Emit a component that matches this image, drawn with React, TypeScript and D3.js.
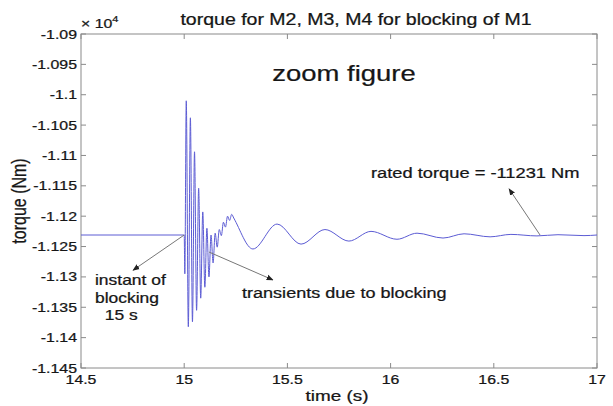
import React from "react";
import * as d3 from "d3";

// Simulated torque of M2/M3/M4 after M1 is blocked at t = 15 s
// (turning points of the trace: time in s, torque in Nm)
const torqueTime = [
  14.5, 15.0, 15.003, 15.01, 15.02, 15.03, 15.04, 15.05, 15.06, 15.07, 15.08,
  15.09, 15.1, 15.11, 15.12, 15.13, 15.14, 15.15, 15.16, 15.17, 15.18, 15.19,
  15.2, 15.21, 15.22, 15.23, 15.24, 15.333, 15.45, 15.566, 15.682, 15.798,
  15.905, 16.031, 16.128, 16.254, 16.356, 16.482, 16.583, 16.709, 16.811,
  16.937, 17.0,
];
const torqueValue = [
  -11231, -11231, -11295, -11010, -11382, -11038, -11374, -11094, -11355,
  -11154, -11335, -11193, -11317, -11220, -11300, -11231, -11277, -11228,
  -11251, -11222, -11232, -11210, -11218, -11200, -11207, -11197, -11203,
  -11254, -11213, -11246, -11222, -11241, -11225, -11238, -11228, -11236,
  -11229, -11234, -11230, -11232.5, -11230.5, -11232, -11231,
];

const xTicks = [14.5, 15, 15.5, 16, 16.5, 17];
const yTicks = [
  -10900, -10950, -11000, -11050, -11100, -11150, -11200, -11250, -11300,
  -11350, -11400, -11450,
];

const titleText = "torque for M2, M3, M4 for blocking of M1";
const noteText = "zoom figure";
const xLabel = "time (s)";
const yLabel = "torque (Nm)";

// annotations: text lines anchored in data units, arrows from -> to
const instantLines = ["instant of", "blocking", "  15 s"];
const instantArrow = { from: [15.0, -11231], to: [14.752, -11289] };
const transientText = "transients due to blocking";
const transientArrow = { from: [15.12, -11259], to: [15.43, -11305] };
const ratedText = "rated torque = -11231 Nm";
const ratedArrow = { from: [16.724, -11231], to: [16.574, -11155] };

const W = 613;
const H = 406;
const plot = { left: 81, right: 597, top: 34, bottom: 368 };
const SX = 1.22;
const FONT = "'Liberation Sans', Arial, sans-serif";
const INK = "#161616";

function Txt(props: {
  x: number;
  y: number;
  size: number;
  anchor?: "start" | "middle" | "end";
  sx?: number;
  children: React.ReactNode;
}) {
  const { x, y, size, anchor = "start", sx = SX, children } = props;
  return (
    <text
      transform={`translate(${x},${y}) scale(${sx},1)`}
      textAnchor={anchor}
      fontFamily={FONT}
      fontSize={size}
      fill={INK}
      stroke={INK}
      strokeWidth={0.25}
      style={{ whiteSpace: "pre" }}
    >
      {children}
    </text>
  );
}

export default function App() {
  const x = d3.scaleLinear().domain([14.5, 17]).range([plot.left, plot.right]);
  const y = d3
    .scaleLinear()
    .domain([-11450, -10900])
    .range([plot.bottom, plot.top]);

  const pts: [number, number][] = torqueTime.map((t, i) => [t, torqueValue[i]]);
  const line = d3
    .line<[number, number]>()
    .x((d) => x(d[0]))
    .y((d) => y(d[1]))
    .curve(d3.curveMonotoneX);

  const fmtY = (v: number) => String(+(v / 1e4).toFixed(4));
  const tick = 5;
  const axisColor = "#8a8a8a";

  const arrow = (a: { from: number[]; to: number[] }, key: string) => (
    <line
      key={key}
      x1={x(a.from[0])}
      y1={y(a.from[1])}
      x2={x(a.to[0])}
      y2={y(a.to[1])}
      stroke="#777"
      strokeWidth={1}
      markerEnd="url(#head)"
    />
  );

  return (
    <svg
      width={W}
      height={H}
      style={{ position: "absolute", left: 0, top: 0, background: "#fff" }}
    >
      <defs>
        <marker
          id="head"
          viewBox="0 0 10 10"
          refX="9"
          refY="5"
          markerWidth="7"
          markerHeight="7"
          markerUnits="userSpaceOnUse"
          orient="auto"
        >
          <path d="M0,1 L10,5 L0,9 z" fill="#222" />
        </marker>
        <clipPath id="plotClip">
          <rect
            x={plot.left}
            y={plot.top}
            width={plot.right - plot.left}
            height={plot.bottom - plot.top}
          />
        </clipPath>
      </defs>

      {/* frame */}
      <rect
        x={plot.left}
        y={plot.top}
        width={plot.right - plot.left}
        height={plot.bottom - plot.top}
        fill="none"
        stroke={axisColor}
        strokeWidth={1}
      />

      {/* ticks on all four sides, pointing inwards */}
      {xTicks.map((t) => (
        <g key={"xt" + t}>
          <line x1={x(t)} x2={x(t)} y1={plot.bottom} y2={plot.bottom - tick} stroke={axisColor} />
          <line x1={x(t)} x2={x(t)} y1={plot.top} y2={plot.top + tick} stroke={axisColor} />
          <Txt x={x(t)} y={plot.bottom + 16} size={13} anchor="middle">
            {String(t)}
          </Txt>
        </g>
      ))}
      {yTicks.map((v) => (
        <g key={"yt" + v}>
          <line x1={plot.left} x2={plot.left + tick} y1={y(v)} y2={y(v)} stroke={axisColor} />
          <line x1={plot.right} x2={plot.right - tick} y1={y(v)} y2={y(v)} stroke={axisColor} />
          <Txt x={plot.left - 4} y={y(v) + 4.5} size={13} anchor="end">
            {fmtY(v)}
          </Txt>
        </g>
      ))}

      {/* exponent marker */}
      <text
        transform={`translate(${plot.left},${plot.top - 6}) scale(${SX},1)`}
        fontFamily={FONT}
        fontSize={13}
        fill={INK}
        stroke={INK}
        strokeWidth={0.25}
      >
        × 10
        <tspan dy={-6} fontSize={9}>
          4
        </tspan>
      </text>

      {/* trace */}
      <path
        d={line(pts) || ""}
        fill="none"
        stroke="#5c5cd4"
        strokeWidth={1}
        clipPath="url(#plotClip)"
      />

      {/* titles */}
      <Txt x={356} y={25} size={16} anchor="middle">
        {titleText}
      </Txt>
      <Txt x={344} y={81} size={22.5} anchor="middle">
        {noteText}
      </Txt>
      <Txt x={337} y={401} size={15.5} anchor="middle">
        {xLabel}
      </Txt>
      <text
        transform={`translate(26,${(plot.top + plot.bottom) / 2}) rotate(-90) scale(1,${SX})`}
        textAnchor="middle"
        fontFamily={FONT}
        fontSize={16}
        fill={INK}
        stroke={INK}
        strokeWidth={0.25}
      >
        {yLabel}
      </text>

      {/* annotations */}
      {arrow(instantArrow, "a1")}
      {arrow(transientArrow, "a2")}
      {arrow(ratedArrow, "a3")}
      {instantLines.map((s, i) => (
        <Txt key={"il" + i} x={95} y={285 + i * 17.5} size={14.3}>
          {s}
        </Txt>
      ))}
      <Txt x={242} y={298} size={14.8}>
        {transientText}
      </Txt>
      <Txt x={371} y={178} size={15}>
        {ratedText}
      </Txt>
    </svg>
  );
}
